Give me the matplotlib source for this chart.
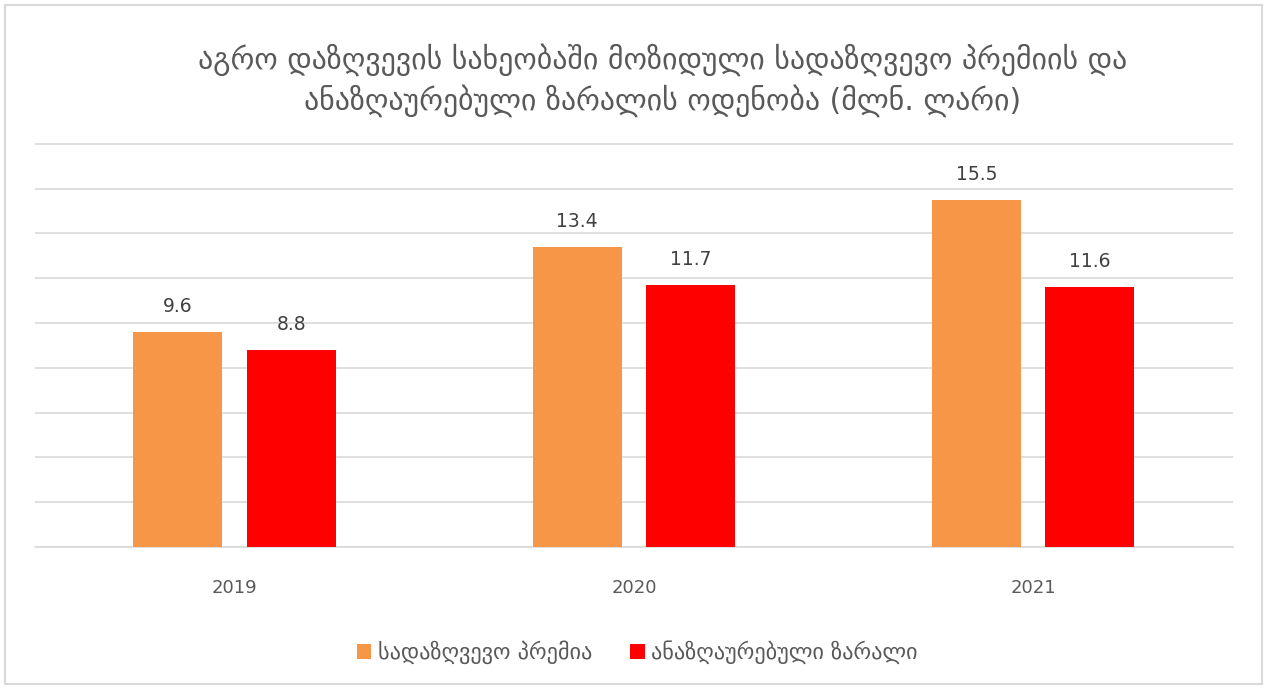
import matplotlib.pyplot as plt
import numpy as np
from matplotlib.patches import Rectangle

years = ['2019', '2020', '2021']
premium = [9.6, 13.4, 15.5]
losses = [8.8, 11.7, 11.6]
series_names = ['სადაზღვევო პრემია', 'ანაზღაურებული ზარალი']
title = 'აგრო დაზღვევის სახეობაში მოზიდული სადაზღვევო პრემიის და\nანაზღაურებული ზარალის ოდენობა (მლნ. ლარი)'

orange = '#F79646'
red = '#FF0000'
txt = '#595959'

plt.rcParams['font.family'] = ['DejaVu Sans']
fig = plt.figure(figsize=(12.67, 6.89), dpi=100)
ax = fig.add_axes([0.0276, 0.206, 0.9455, 0.5864])

# light frame round the whole chart
fig.patches.append(Rectangle((5 / 1267, 5 / 689), 1257 / 1267, 679 / 689,
                             transform=fig.transFigure, fill=False,
                             edgecolor='#D9D9D9', linewidth=1.5))

x = np.arange(len(years))
w = 0.223
off = 0.142
b1 = ax.bar(x - off, premium, w, color=orange, label=series_names[0], zorder=3)
b2 = ax.bar(x + off, losses, w, color=red, label=series_names[1], zorder=3)

for bars in (b1, b2):
    for b in bars:
        ax.text(b.get_x() + b.get_width() / 2, b.get_height() + 0.7,
                f'{b.get_height():.1f}', ha='center', va='bottom',
                fontsize=13.5, color='#404040')

ax.set_xlim(-0.5, 2.5)
ax.set_ylim(0, 18.03)
ax.set_yticks(np.arange(0, 19, 2))
ax.yaxis.grid(True, color='#D9D9D9', linewidth=1.2, zorder=0)
ax.tick_params(axis='y', left=False, labelleft=False)
ax.set_xticks(x)
ax.set_xticklabels(years, fontsize=13, color=txt)
ax.tick_params(axis='x', length=0, pad=23)
for s in ['top', 'left', 'right']:
    ax.spines[s].set_visible(False)
ax.spines['bottom'].set_color('#D9D9D9')
ax.spines['bottom'].set_linewidth(1.2)

fig.text(0.523, 0.938, title, ha='center', va='top', fontsize=21.5,
         color=txt, linespacing=1.35)

fig.legend(loc='center', bbox_to_anchor=(0.503, 0.053), ncol=2, frameon=False,
           fontsize=16, labelcolor=txt, handlelength=0.65, handleheight=0.65,
           handletextpad=0.3, columnspacing=1.7)

fig.savefig('out.png', dpi=100)
